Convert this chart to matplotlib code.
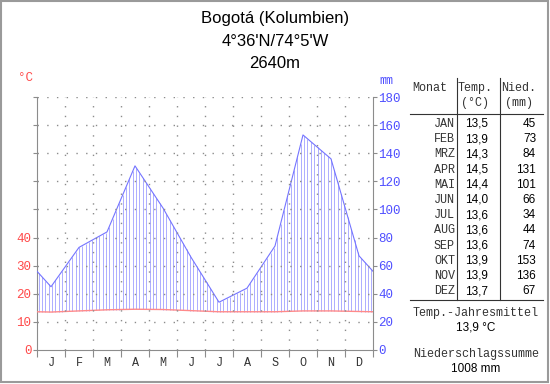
import numpy as np
import matplotlib.pyplot as plt
from matplotlib.lines import Line2D
from matplotlib.patches import Rectangle

# Klimadaten Bogotá
months = ['JAN', 'FEB', 'MRZ', 'APR', 'MAI', 'JUN', 'JUL', 'AUG', 'SEP', 'OKT', 'NOV', 'DEZ']
month_letters = ['J', 'F', 'M', 'A', 'M', 'J', 'J', 'A', 'S', 'O', 'N', 'D']
temp = [13.5, 13.9, 14.3, 14.5, 14.4, 14.0, 13.6, 13.6, 13.6, 13.9, 13.9, 13.7]
prec = [45, 73, 84, 131, 101, 66, 34, 44, 74, 153, 136, 67]
temp_labels = ['13,5', '13,9', '14,3', '14,5', '14,4', '14,0', '13,6', '13,6', '13,6', '13,9', '13,9', '13,7']
title_lines = ['Bogotá (Kolumbien)', "4°36'N/74°5'W", '2640m']
temp_mean = '13,9 °C'
prec_sum = '1008 mm'

red = '#ff4a4a'
blue = '#4f4fff'
grey = '#8c8c8c'
mono = 'Liberation Mono'
sans = 'Liberation Sans'

fig = plt.figure(figsize=(5.5, 3.84), dpi=100)
ax = fig.add_axes([37/550, 1 - 350/384, (373 - 37)/550, (350 - 97)/384])

# wrap the year so the lines reach both edges
xm = np.arange(12) + 0.5
xw = np.concatenate([[0], xm, [12]])
pw = np.concatenate([[(prec[-1] + prec[0]) / 2], prec, [(prec[-1] + prec[0]) / 2]])
tw = 2 * np.concatenate([[(temp[-1] + temp[0]) / 2], temp, [(temp[-1] + temp[0]) / 2]])

# hatching (humid period)
xh = np.arange(0.06, 12, 0.12)
ax.vlines(xh, np.interp(xh, xw, tw), np.interp(xh, xw, pw), color='#a0a0ff', lw=0.6)
ax.plot(xw, pw, color='#7474ff', lw=0.8)
ax.plot(xw, tw, color='#ff8a8a', lw=1.0)

# dotted grid
for m in range(1, 12):
    ax.axvline(m, color=grey, lw=1.0, ls=(0, (1, 6)))
for v in range(20, 181, 20):
    ax.axhline(v, color=grey, lw=1.0, ls=(0, (1, 6)))

ax.set_xlim(0, 12)
ax.set_ylim(0, 180)
ax.spines['top'].set_visible(False)
ax.spines['left'].set_visible(False)
for s in ['right', 'bottom']:
    ax.spines[s].set_color(grey)

ax.set_xticks(range(0, 13))
ax.set_xticklabels([])
ax.set_xticks(xm, minor=True)
ax.set_xticklabels(month_letters, minor=True, fontfamily=mono, fontsize=8.5, color='#333333')
ax.tick_params(axis='x', which='major', length=5, color=grey, direction='out')
ax.tick_params(axis='x', which='minor', length=0, pad=5)

ax.yaxis.tick_right()
ax.set_yticks(range(0, 181, 20))
ax.tick_params(axis='y', length=3, color=grey, labelcolor=blue, labelsize=9, pad=1)
for t in ax.get_yticklabels():
    t.set_fontfamily(mono)

sec = ax.secondary_yaxis('left', functions=(lambda v: v / 2, lambda v: v * 2))
sec.set_yticks(range(0, 91, 10))
sec.set_yticklabels([str(v) if v <= 40 else '' for v in range(0, 91, 10)])
sec.spines['left'].set_color(grey)
sec.tick_params(axis='y', length=3, color=grey, labelcolor=red, labelsize=9, pad=1)
for t in sec.get_yticklabels():
    t.set_fontfamily(mono)

# overlay in pixel coordinates for text and table
ov = fig.add_axes([0, 0, 1, 1], zorder=-1)
ov.set_xlim(0, 550)
ov.set_ylim(384, 0)
ov.axis('off')
ov.add_patch(Rectangle((1, 1), 547, 381, fill=False, ec='#9a9a9a', lw=1.5))

for i, s in enumerate(title_lines):
    ov.text(275, 18 + 23 * i, s, ha='center', va='center', fontsize=12, fontfamily=sans)
ov.text(26, 78, '°C', ha='center', va='center', color=red, fontsize=9, fontfamily=mono)
ov.text(386, 81, 'mm', ha='center', va='center', color=blue, fontsize=8.5, fontfamily=mono)

# table
ov.add_line(Line2D([457, 457], [78, 300], color='#333333', lw=0.8))
ov.add_line(Line2D([500, 500], [78, 300], color='#333333', lw=0.8))
ov.add_line(Line2D([410, 543], [114, 114], color='#333333', lw=0.8))
ov.add_line(Line2D([410, 543], [300, 300], color='#333333', lw=0.8))
ov.text(430, 88, 'Monat', ha='center', va='center', fontsize=8.5, fontfamily=mono, color='#333333')
ov.text(475, 88, 'Temp.', ha='center', va='center', fontsize=8.5, fontfamily=mono, color='#333333')
ov.text(475, 103, '(°C)', ha='center', va='center', fontsize=8.5, fontfamily=mono, color='#333333')
ov.text(519, 88, 'Nied.', ha='center', va='center', fontsize=8.5, fontfamily=mono, color='#333333')
ov.text(519, 103, '(mm)', ha='center', va='center', fontsize=8.5, fontfamily=mono, color='#333333')
for i in range(12):
    y = 124 + 15.2 * i
    ov.text(455, y, months[i], ha='right', va='center', fontsize=8.5, fontfamily=mono, color='#333333')
    ov.text(488, y, temp_labels[i], ha='right', va='center', fontsize=8.5, fontfamily=sans)
    ov.text(536, y, str(prec[i]), ha='right', va='center', fontsize=8.5, fontfamily=sans)
ov.text(476, 313, 'Temp.-Jahresmittel', ha='center', va='center', fontsize=8.5, fontfamily=mono, color='#333333')
ov.text(476, 328, temp_mean, ha='center', va='center', fontsize=8.5, fontfamily=sans)
ov.text(476, 354, 'Niederschlagssumme', ha='center', va='center', fontsize=8.5, fontfamily=mono, color='#333333')
ov.text(476, 369, prec_sum, ha='center', va='center', fontsize=8.5, fontfamily=sans)

fig.savefig('out.png', dpi=100)
